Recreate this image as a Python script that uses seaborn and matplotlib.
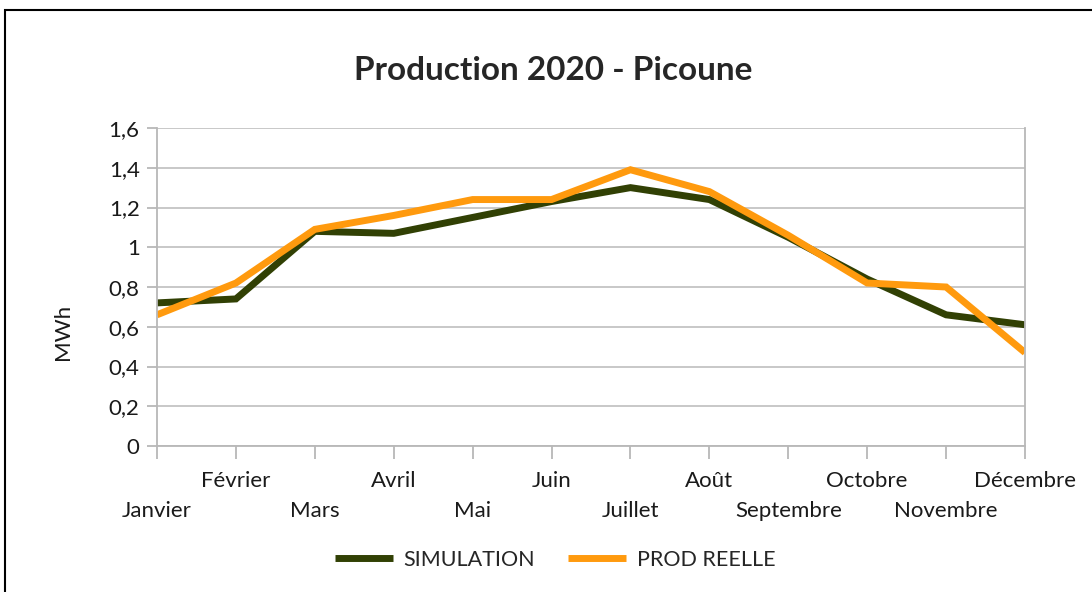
import pandas as pd
import matplotlib.pyplot as plt
import seaborn as sns
from matplotlib.patches import Rectangle

mois = ["Janvier", "Février", "Mars", "Avril", "Mai", "Juin", "Juillet",
        "Août", "Septembre", "Octobre", "Novembre", "Décembre"]
simulation = [0.72, 0.74, 1.08, 1.07, 1.15, 1.23, 1.30, 1.24, 1.05, 0.84, 0.66, 0.61]
prod_reelle = [0.66, 0.82, 1.09, 1.16, 1.24, 1.24, 1.39, 1.28, 1.06, 0.82, 0.80, 0.47]
series = ["SIMULATION", "PROD REELLE"]
couleurs = {"SIMULATION": "#314004", "PROD REELLE": "#ff9a0e"}

df = pd.DataFrame({
    "idx": list(range(len(mois))) * 2,
    "valeur": simulation + prod_reelle,
    "serie": [series[0]] * len(mois) + [series[1]] * len(mois),
})

sns.set_style("white")
plt.rcParams["font.family"] = ["Lato", "DejaVu Sans"]

fig = plt.figure(figsize=(10.92, 5.92), dpi=100)
ax = fig.add_axes([157 / 1092, 1 - 446 / 592, 868 / 1092, 318 / 592])

sns.lineplot(data=df, x="idx", y="valeur", hue="serie", palette=couleurs,
             linewidth=5, ax=ax, legend=False, sort=False)
for ln in ax.lines:
    ln.set_solid_capstyle("butt")
    ln.set_solid_joinstyle("miter")

ax.set_xlim(0, len(mois) - 1)
ax.set_ylim(0, 1.6)
ax.set_yticks([0, 0.2, 0.4, 0.6, 0.8, 1.0, 1.2, 1.4, 1.6])
ax.set_yticklabels([f"{v:g}".replace(".", ",") for v in ax.get_yticks()],
                   fontsize=16, color="#1a1a1a")

# libellés en quinconce : mois pairs en bas (majeurs), impairs en haut (mineurs)
idx_bas = list(range(0, len(mois), 2))
idx_haut = list(range(1, len(mois), 2))
ax.set_xticks(idx_bas)
ax.set_xticklabels([mois[i] for i in idx_bas], fontsize=16, color="#1a1a1a")
ax.set_xticks(idx_haut, minor=True)
ax.set_xticklabels([mois[i] for i in idx_haut], minor=True, fontsize=16, color="#1a1a1a")

ax.grid(axis="y", color="#c4c4c4", linewidth=1.3)
ax.set_axisbelow(True)
for side in ["left", "bottom", "right"]:
    ax.spines[side].set_color("#b8b8b8")
    ax.spines[side].set_linewidth(1.3)
ax.spines["top"].set_visible(False)
ax.tick_params(axis="x", which="major", length=9.5, width=1.3, color="#b8b8b8",
               pad=30, direction="out")
ax.tick_params(axis="x", which="minor", length=9.5, width=1.3, color="#b8b8b8",
               pad=8.5, direction="out")
ax.tick_params(axis="y", length=7.5, width=1.3, color="#b8b8b8", pad=5, direction="out")
ax.xaxis.set_ticks_position("bottom")
ax.yaxis.set_ticks_position("left")

ax.set_xlabel("")
ax.set_ylabel("MWh", fontsize=16, color="#1a1a1a")
ax.yaxis.set_label_coords(-0.097, 0.36)

fig.text(553 / 1092, 1 - 70 / 592, "Production 2020 - Picoune",
         ha="center", va="center", fontsize=24, fontweight="bold")

handles = [plt.Line2D([], [], color=couleurs[s], linewidth=5, solid_capstyle="butt")
           for s in series]
fig.legend(handles, series, loc="center", bbox_to_anchor=(555 / 1092, 1 - 560 / 592),
           ncol=2, frameon=False, fontsize=15.5, handlelength=2.7, columnspacing=1.5,
           handletextpad=0.5)

fig.patches.append(Rectangle((5 / 1092, -0.1), 1.2, 1.1 - 10 / 592,
                             transform=fig.transFigure, fill=False,
                             edgecolor="black", linewidth=1.5, clip_on=False))

fig.savefig("out.png", dpi=100)
